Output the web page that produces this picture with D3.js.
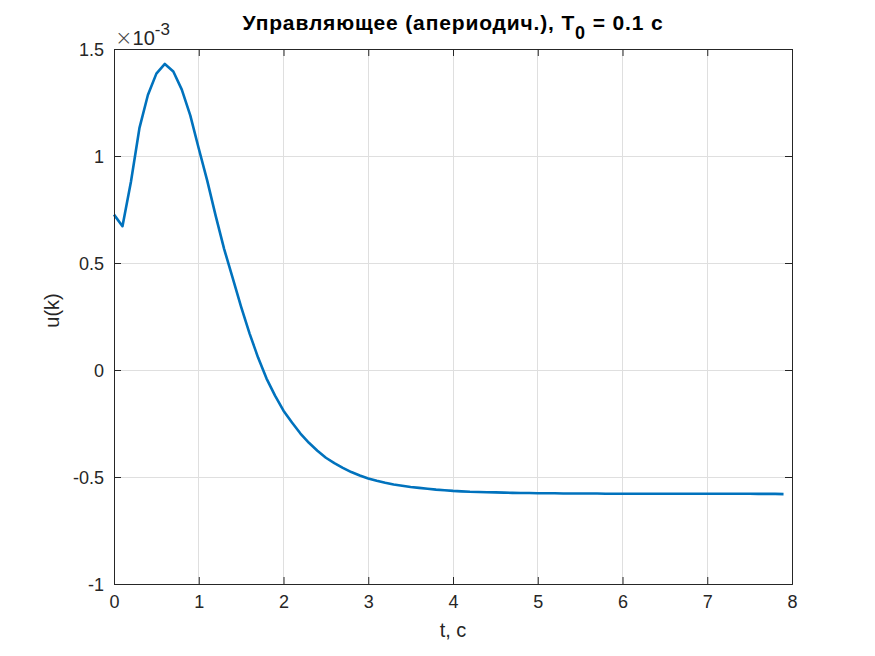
<!DOCTYPE html>
<html><head><meta charset="utf-8">
<script src="https://cdn.jsdelivr.net/npm/d3@7"></script>
<style>body{margin:0;background:#fff}svg{display:block;font-family:"Liberation Sans",Arial,sans-serif}</style>
</head><body><svg id="c" width="875" height="656"></svg>
<script>
// time samples (s), T0 = 0.1
const tValues = d3.range(0, 80).map(i => +(i * 0.1).toFixed(1));
// u(k) in units of 1e-3
const uValues = [
 0.726, 0.672, 0.880, 1.130, 1.285, 1.385, 1.430, 1.395, 1.310, 1.190,
 1.035, 0.885, 0.720, 0.565, 0.430, 0.295, 0.170, 0.058, -0.040, -0.120,
 -0.190, -0.245, -0.297, -0.340, -0.377, -0.410, -0.435, -0.457, -0.477, -0.493,
 -0.507, -0.518, -0.527, -0.535, -0.541, -0.547, -0.551, -0.555, -0.559, -0.562,
 -0.565, -0.567, -0.569, -0.570, -0.571, -0.572, -0.573, -0.574, -0.575, -0.575,
 -0.576, -0.576, -0.576, -0.577, -0.577, -0.577, -0.577, -0.577, -0.578, -0.578,
 -0.578, -0.578, -0.578, -0.578, -0.578, -0.578, -0.578, -0.578, -0.578, -0.578,
 -0.578, -0.578, -0.578, -0.578, -0.578, -0.578, -0.579, -0.579, -0.579, -0.580
];
const xTicks = [0,1,2,3,4,5,6,7,8];
const yTicks = [-1,-0.5,0,0.5,1,1.5];
const yTickLabels = ["-1","-0.5","0","0.5","1","1.5"];
const titleMain = "Управляющее (апериодич.), T";
const titleSub = "0";
const titleTail = " = 0.1 с";
const xLabel = "t, с";
const yLabel = "u(k)";

const L = 114, R = 792, T = 49, B = 584;
const svg = d3.select("#c");
const x = d3.scaleLinear().domain([0, 8]).range([L, R]);
const y = d3.scaleLinear().domain([-1, 1.5]).range([B, T]);
const axisCol = "#262626";

// grid
const g = svg.append("g");
g.selectAll(".gx").data(xTicks.slice(1, -1)).enter().append("line")
 .attr("x1", d => x(d)).attr("x2", d => x(d)).attr("y1", T).attr("y2", B)
 .attr("stroke", "#dfdfdf").attr("stroke-width", 1).attr("shape-rendering","crispEdges");
g.selectAll(".gy").data(yTicks.slice(1, -1)).enter().append("line")
 .attr("y1", d => y(d)).attr("y2", d => y(d)).attr("x1", L).attr("x2", R)
 .attr("stroke", "#dfdfdf").attr("stroke-width", 1).attr("shape-rendering","crispEdges");

// line
const line = d3.line().x((d, i) => x(tValues[i])).y(d => y(d));
svg.append("path").datum(uValues).attr("d", line).attr("fill", "none")
 .attr("stroke", "#0072BD").attr("stroke-width", 2.6).attr("stroke-linejoin","round");

// axes
const fs = 18;
const ax = svg.append("g").attr("transform", `translate(0,${B})`)
 .call(d3.axisBottom(x).tickValues(xTicks).tickSize(-7).tickPadding(11).tickFormat(d3.format("d")));
const ay = svg.append("g").attr("transform", `translate(${L},0)`)
 .call(d3.axisLeft(y).tickValues(yTicks).tickSize(-7).tickPadding(10).tickFormat((d,i) => yTickLabels[i]));
const axTop = svg.append("g").attr("transform", `translate(0,${T})`)
 .call(d3.axisTop(x).tickValues(xTicks).tickSize(-7).tickFormat(""));
const ayR = svg.append("g").attr("transform", `translate(${R},0)`)
 .call(d3.axisRight(y).tickValues(yTicks).tickSize(-7).tickFormat(""));
[ax, ay, axTop, ayR].forEach(a => {
  a.select(".domain").attr("stroke", axisCol).attr("stroke-width", 1);
  a.selectAll(".tick line").attr("stroke", axisCol);
  a.selectAll("text").attr("fill", axisCol).style("font-size", fs + "px").style("font-family", '"Liberation Sans",Arial,sans-serif');
});
ay.selectAll("text").attr("dy", "0.35em");

// exponent label
const ex = svg.append("text").attr("x", L + 1).attr("y", 45).attr("fill", axisCol)
 .style("font-size", "20px");
ex.append("tspan").style("font-size", "21px").style("font-family", '"DejaVu Sans",sans-serif').style("font-weight", "200").attr("fill", "#444").text("×");
ex.append("tspan").text("10");
ex.append("tspan").attr("dy", -10).style("font-size", "17px").text("-3");

// axis labels
svg.append("text").attr("x", (L + R) / 2).attr("y", 637).attr("text-anchor", "middle")
 .attr("fill", axisCol).style("font-size", "20px").text(xLabel);
svg.append("text").attr("transform", `translate(59,${(T + B) / 2 - 6}) rotate(-90)`)
 .attr("text-anchor", "middle").attr("fill", axisCol).style("font-size", "20px").text(yLabel);

// title
const tt = svg.append("text").attr("x", (L + R) / 2).attr("y", 30).attr("text-anchor", "middle")
 .attr("fill", "#000").style("font-size", "21px").style("font-weight", "bold").style("letter-spacing", "0.85px");
tt.append("tspan").text(titleMain);
tt.append("tspan").attr("dy", 9).style("font-size", "18px").text(titleSub);
tt.append("tspan").attr("dy", -9).text(titleTail);
</script></body></html>
